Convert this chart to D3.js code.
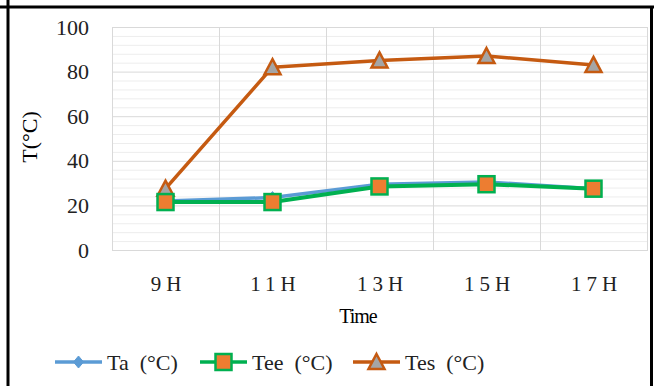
<!DOCTYPE html>
<html>
<head>
<meta charset="utf-8">
<script src="https://cdn.jsdelivr.net/npm/d3@7"></script>
<style>
  body { margin: 0; background: #fff; }
  svg { display: block; }
  text { font-family: "Liberation Serif", "Times New Roman", serif; }
</style>
</head>
<body>
<div id="chart"></div>
<script>
// temperatures through the day
var width = 654;
var height = 386;

var hours = ["9H", "11H", "13H", "15H", "17H"];
var ta  = [22, 23.5, 29.5, 30.5, 27.5];
var tee = [21.5, 21.5, 28.5, 29.5, 27.5];
var tes = [27.5, 82, 85, 87, 83];
var yTicks = [0, 20, 40, 60, 80, 100];

var series = [
    { name: "Tes (\u00B0C)", values: tes, line: "#C55A11", fill: "#A5A5A5", stroke: "#C55A11", shape: "triangle" },
    { name: "Ta (\u00B0C)", values: ta, line: "#5B9BD5", fill: "#5B9BD5", stroke: "#5B9BD5", shape: "diamond" },
    { name: "Tee (\u00B0C)", values: tee, line: "#00B050", fill: "#ED7D31", stroke: "#00B050", shape: "square" }
];
var legendOrder = [1, 2, 0];

var plot = { left: 112, right: 647, top: 27, bottom: 250 };
var serif = "Liberation Serif";

var svg = d3.select("#chart")
    .append("svg")
    .attr("width", width)
    .attr("height", height);

// frame lines (table cell)
svg.append("line").attr("x1", 0).attr("x2", width).attr("y1", 7).attr("y2", 7)
    .attr("stroke", "#000").attr("stroke-width", 3);
svg.append("line").attr("x1", 8).attr("x2", 8).attr("y1", 0).attr("y2", height)
    .attr("stroke", "#000").attr("stroke-width", 3);
svg.append("line").attr("x1", 651.5).attr("x2", 651.5).attr("y1", 7).attr("y2", height)
    .attr("stroke", "#000").attr("stroke-width", 3);

var x = d3.scaleBand()
    .domain(hours)
    .range([plot.left, plot.right]);

var y = d3.scaleLinear()
    .domain([0, 100])
    .range([plot.bottom, plot.top]);

// minor gridlines every 4
var minor = d3.range(0, 101, 4).filter(function(v) { return v % 20 != 0; });
svg.append("g").selectAll("line")
    .data(minor)
    .enter()
    .append("line")
    .attr("x1", plot.left).attr("x2", plot.right)
    .attr("y1", function(d) { return y(d) + 0.5; })
    .attr("y2", function(d) { return y(d) + 0.5; })
    .attr("stroke", "#EDEDED");

// major gridlines
svg.append("g").selectAll("line")
    .data(yTicks)
    .enter()
    .append("line")
    .attr("x1", plot.left).attr("x2", plot.right)
    .attr("y1", function(d) { return y(d) + 0.5; })
    .attr("y2", function(d) { return y(d) + 0.5; })
    .attr("stroke", "#D9D9D9");

// vertical gridlines at category boundaries
svg.append("g").selectAll("line")
    .data(hours)
    .enter()
    .append("line")
    .attr("x1", function(d) { return x(d) + x.bandwidth() + 0.5; })
    .attr("x2", function(d) { return x(d) + x.bandwidth() + 0.5; })
    .attr("y1", plot.top).attr("y2", plot.bottom)
    .attr("stroke", "#D9D9D9");

svg.append("rect")
    .attr("x", plot.left + 0.5).attr("y", plot.top + 0.5)
    .attr("width", plot.right - plot.left).attr("height", plot.bottom - plot.top)
    .attr("fill", "none").attr("stroke", "#D9D9D9");

// y axis
var yAxis = svg.append("g")
    .attr("transform", "translate(" + (plot.left - 23) + ",0)")
    .call(d3.axisLeft(y).tickValues(yTicks).tickSize(0).tickPadding(0));
yAxis.attr("font-family", serif);
yAxis.select(".domain").remove();
yAxis.selectAll("text")
    .attr("font-size", 22)
    .attr("fill", "#222");

// x axis
var xAxis = svg.append("g")
    .attr("transform", "translate(0," + plot.bottom + ")")
    .call(d3.axisBottom(x).tickSize(0).tickPadding(0));
xAxis.attr("font-family", serif);
xAxis.select(".domain").remove();
xAxis.selectAll("text")
    .attr("font-size", 21)
    .attr("fill", "#222")
    .attr("dy", 0)
    .attr("y", 41)
    .attr("dx", 3)
    .style("letter-spacing", "5px");

// axis titles
svg.append("text")
    .attr("x", 358).attr("y", 323)
    .attr("text-anchor", "middle")
    .attr("font-family", serif)
    .attr("font-size", 20)
    .style("letter-spacing", "-1px")
    .text("Time");

svg.append("text")
    .attr("transform", "translate(37,137) rotate(-90)")
    .attr("text-anchor", "middle")
    .attr("font-family", serif)
    .attr("font-size", 22)
    .text("T(\u00B0C)");

var cx = function(i) { return x(hours[i]) + x.bandwidth() / 2; };

var line = d3.line()
    .x(function(d, i) { return cx(i); })
    .y(function(d) { return y(d); });

function marker(sel, s) {
    if (s.shape == "square") {
        sel.append("rect")
            .attr("x", -8).attr("y", -8).attr("width", 16).attr("height", 16)
            .attr("fill", s.fill).attr("stroke", s.stroke).attr("stroke-width", 2.5);
    } else if (s.shape == "triangle") {
        sel.append("path")
            .attr("d", "M0,-8L8,7L-8,7Z")
            .attr("fill", s.fill).attr("stroke", s.stroke).attr("stroke-width", 2.5)
            .attr("stroke-linejoin", "miter");
    } else {
        sel.append("path")
            .attr("d", "M0,-6L5,0L0,6L-5,0Z")
            .attr("fill", s.fill).attr("stroke", s.stroke).attr("stroke-width", 1);
    }
}

series.forEach(function(s) {
    svg.append("path")
        .datum(s.values)
        .attr("d", line)
        .attr("fill", "none")
        .attr("stroke", s.line)
        .attr("stroke-width", s.shape == "square" ? 4 : 3.5)
        .attr("stroke-linejoin", "round");
});

series.forEach(function(s) {
    s.values.forEach(function(v, i) {
        var g = svg.append("g").attr("transform", "translate(" + cx(i) + "," + y(v) + ")");
        marker(g, s);
    });
});

// legend
var legendX = [55, 200, 353];
var legendY = 362;
legendOrder.forEach(function(k, j) {
    var s = series[k];
    var lx = legendX[j];
    svg.append("line")
        .attr("x1", lx).attr("x2", lx + 47)
        .attr("y1", legendY).attr("y2", legendY)
        .attr("stroke", s.line).attr("stroke-width", 3.5);
    var g = svg.append("g").attr("transform", "translate(" + (lx + 23.5) + "," + legendY + ")");
    marker(g, s);
    var parts = s.name.split(" ");
    svg.append("text")
        .attr("x", lx + 52).attr("y", legendY + 8)
        .attr("font-family", serif)
        .attr("font-size", 22)
        .attr("fill", "#222")
        .text(parts[0] + "\u00A0\u00A0" + parts[1]);
});
</script>
</body>
</html>
